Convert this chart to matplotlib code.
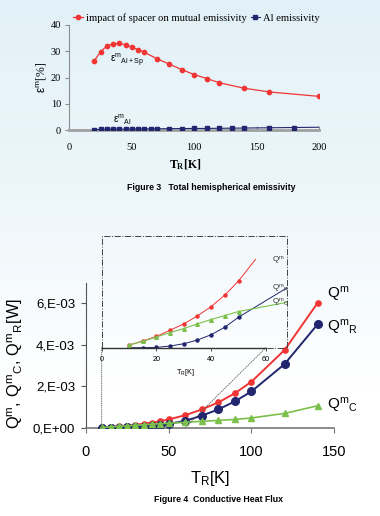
import numpy as np
import matplotlib
matplotlib.use('Agg')
import matplotlib.pyplot as plt
from matplotlib.patches import Rectangle, ConnectionPatch
from matplotlib.transforms import blended_transform_factory
from matplotlib.colors import LinearSegmentedColormap

plt.rcParams['font.family'] = ['Liberation Sans', 'DejaVu Sans']
plt.rcParams['mathtext.fontset'] = 'custom'
plt.rcParams['mathtext.rm'] = 'Liberation Sans'
plt.rcParams['mathtext.it'] = 'Liberation Sans:italic'
plt.rcParams['mathtext.bf'] = 'Liberation Serif:bold'

# Figure 3 data: emissivity [%] vs T_R [K]
T_sp = [20, 25, 30, 35, 40, 45, 50, 55, 60, 70, 80, 90, 100, 110, 120, 140, 160, 200]
eps_sp = [26.4, 29.8, 32.0, 32.8, 33.0, 32.5, 31.6, 30.6, 29.6, 27.2, 25.1, 23.0,
          21.1, 19.6, 18.0, 15.9, 14.5, 12.8]
T_al = [20, 25, 30, 35, 40, 45, 50, 55, 60, 65, 70, 80, 90, 100, 110, 120, 130, 140, 160, 180]
eps_al = [0.15, 0.2, 0.25, 0.3, 0.3, 0.35, 0.35, 0.4, 0.4, 0.45, 0.45, 0.5, 0.55, 0.6,
          0.6, 0.65, 0.7, 0.75, 0.85, 0.95]
T_al_tail = [200]
eps_al_tail = [1.05]

# Figure 4 data: heat flux [W] vs T_R [K]
T_q = [10, 15, 20, 25, 30, 35, 40, 45, 50, 60, 70, 80, 90, 100, 120, 140]
q_total = [0.016e-3, 0.040e-3, 0.068e-3, 0.105e-3, 0.143e-3, 0.191e-3, 0.247e-3, 0.316e-3,
           0.400e-3, 0.60e-3, 0.88e-3, 1.22e-3, 1.66e-3, 2.22e-3, 3.75e-3, 6.03e-3]
q_rad = [0.0, 0.0, 0.002e-3, 0.010e-3, 0.024e-3, 0.046e-3, 0.078e-3, 0.123e-3,
         0.183e-3, 0.33e-3, 0.58e-3, 0.88e-3, 1.27e-3, 1.75e-3, 3.07e-3, 5.00e-3]
q_cond = [0.016e-3, 0.038e-3, 0.064e-3, 0.091e-3, 0.115e-3, 0.143e-3, 0.169e-3, 0.193e-3,
          0.217e-3, 0.26e-3, 0.31e-3, 0.35e-3, 0.40e-3, 0.47e-3, 0.69e-3, 1.06e-3]
# inset trend-line ends (no markers)
tail_T_total = [56.2]
tail_total = [0.53e-3]
tail_T_rad = [67.6]
tail_rad = [0.358e-3]
tail_T_cond = [67.6]
tail_cond = [0.272e-3]

RED = '#F03535'
NAVY = '#22266E'
GREEN = '#7CC04C'
GRAY = '#8C8C8C'

W, H = 380, 516
fig = plt.figure(figsize=(W / 100, H / 100), dpi=100)

# page background: light blue fading to white
bg = fig.add_axes([0, 0, 1, 1], zorder=-10)
cmap = LinearSegmentedColormap.from_list('bg', [(0, '#E2F1F7'), (0.35, '#ECF6FA'), (0.75, '#FFFFFF'), (1, '#FFFFFF')])
bg.imshow(np.linspace(0, 1, 256).reshape(-1, 1), aspect='auto', cmap=cmap, extent=[0, 1, 0, 1])
bg.axis('off')

# ---------------- Figure 3 ----------------
ax1 = fig.add_axes([69.3 / W, 1 - 130 / H, 250 / W, 105 / H])
ax1.set_facecolor('none')
ax1.plot(T_sp, eps_sp, color=RED, lw=0.9, marker='o', ms=3.1, label='impact of spacer on mutual emissivity')
ax1.plot(T_al + T_al_tail, eps_al + eps_al_tail, color=NAVY, lw=0.8, zorder=3)
ax1.plot(T_al, eps_al, color=NAVY, lw=0, marker='s', ms=3.0, zorder=4)
ax1.plot([], [], color=NAVY, lw=0.8, marker='s', ms=3.0, label='Al emissivity')
ax1.set_xlim(0, 200)
ax1.set_ylim(0, 40)
ax1.set_xticks([0, 50, 100, 150, 200])
ax1.set_yticks([0, 10, 20, 30, 40])
for s in ['top', 'right']:
    ax1.spines[s].set_visible(False)
ax1.spines['left'].set_color(GRAY)
ax1.spines['left'].set_linewidth(0.8)
ax1.spines['bottom'].set_color('#A0A0A0')
ax1.spines['bottom'].set_linewidth(2)
ax1.tick_params(axis='y', direction='out', length=3, width=0.8, color=GRAY, pad=3, labelsize=7.5)
ax1.tick_params(axis='x', direction='in', length=3, width=0.8, color=GRAY, pad=9.5, labelsize=7.5)
for lab in ax1.get_xticklabels() + ax1.get_yticklabels():
    lab.set_family('Liberation Serif')
ax1.text(32.6, 27.0, r'$\mathrm{\varepsilon^{m}{}_{Al+Sp}}$', fontsize=7.2, va='center', ha='left')
ax1.text(35, 3.8, r'$\mathrm{\varepsilon^{m}{}_{Al}}$', fontsize=7.2, va='center', ha='left')
fig.legend(loc='center left', bbox_to_anchor=(73 / W, 1 - 18 / H), ncol=2, frameon=False,
           prop={'family': 'Liberation Serif', 'size': 7.6}, handlelength=0.9,
           handletextpad=0.3, columnspacing=0.4, borderpad=0, borderaxespad=0)
fig.text(42 / W, 1 - 77.5 / H, r'$\mathrm{\varepsilon^{m}}$[%]', rotation=90, ha='center', va='center',
         fontsize=8.5, family='Liberation Serif')
fig.text(185 / W, 1 - 165 / H, r'$\mathbf{T_R[K]}$', ha='center', va='center', fontsize=8.5)
fig.text(211 / W, 1 - 187 / H, 'Figure 3   Total hemispherical emissivity', ha='center', va='center',
         fontsize=6.3, fontweight='bold')

# ---------------- Figure 4 ----------------
ax2 = fig.add_axes([85.7 / W, 1 - 427.7 / H, 248.6 / W, 145 / H])
ax2.set_facecolor('none')
ax2.plot(T_q, q_total, color=RED, lw=1.4, marker='o', ms=3.8, zorder=3)
ax2.plot(T_q, q_rad, color=NAVY, lw=1.4, marker='o', ms=5.5, zorder=4)
ax2.plot(T_q, q_cond, color=GREEN, lw=1.2, marker='^', ms=4.5, zorder=5)
ax2.set_xlim(0, 150)
ax2.set_ylim(0, 0.007)
ax2.set_xticks([0, 50, 100, 150])
ax2.set_yticks([0, 0.002, 0.004, 0.006])
ax2.set_yticklabels(['0,E+00', '2,E-03', '4,E-03', '6,E-03'])
for s in ['top', 'right']:
    ax2.spines[s].set_visible(False)
ax2.spines['left'].set_color('#555555')
ax2.spines['bottom'].set_color('#777777')
ax2.spines['left'].set_linewidth(0.8)
ax2.spines['bottom'].set_linewidth(1.2)
ax2.tick_params(axis='y', direction='out', length=3.6, width=0.8, color='#555555', pad=4.1, labelsize=9.5)
ax2.tick_params(axis='x', direction='out', length=3.6, width=0.8, color='#777777', pad=9, labelsize=10.5)
ax2.text(145.6, 0.00625, r'$\mathrm{Q^{m}}$', fontsize=11, va='baseline', ha='left')
ax2.text(145.6, 0.00463, r'$\mathrm{Q^{m}{}_{R}}$', fontsize=11, va='baseline', ha='left')
ax2.text(145.6, 0.00085, r'$\mathrm{Q^{m}{}_{C}}$', fontsize=11, va='baseline', ha='left')
fig.text(15 / W, 1 - 364 / H, r'$\mathrm{Q^{m},\,Q^{m}{}_{C},\,Q^{m}{}_{R}[W]}$', rotation=90,
         ha='center', va='center', fontsize=11.8)
fig.text(210 / W, 1 - 478 / H, r'$\mathrm{T_R[K]}$', ha='center', va='center', fontsize=12)
fig.text(219 / W, 1 - 500 / H, 'Figure 4  Conductive Heat Flux', ha='center', va='center',
         fontsize=6.3, fontweight='bold')

# inset
axi = fig.add_axes([101.7 / W, 1 - 347.7 / H, 185 / W, 111.7 / H])
axi.set_facecolor('none')
n_ins = 9
axi.plot(T_q[:n_ins] + tail_T_total, q_total[:n_ins] + tail_total, color=RED, lw=0.7)
axi.plot(T_q[:n_ins], q_total[:n_ins], color=RED, lw=0, marker='o', ms=2.2)
axi.plot(T_q[:n_ins] + tail_T_rad, q_rad[:n_ins] + tail_rad, color=NAVY, lw=0.7)
axi.plot(T_q[:n_ins], q_rad[:n_ins], color=NAVY, lw=0, marker='o', ms=2.2)
axi.plot(T_q[:n_ins] + tail_T_cond, q_cond[:n_ins] + tail_cond, color=GREEN, lw=0.8)
axi.plot(T_q[:n_ins], q_cond[:n_ins], color=GREEN, lw=0, marker='^', ms=2.6)
axi.set_xlim(0, 67.6)
axi.set_ylim(0, 0.00067)
axi.set_xticks([0, 20, 40, 60])
axi.set_yticks([])
for s in ['top', 'right', 'left']:
    axi.spines[s].set_visible(False)
axi.spines['bottom'].set_bounds(0, 60)
axi.spines['bottom'].set_color('#333333')
axi.spines['bottom'].set_linewidth(1.0)
axi.tick_params(axis='x', direction='out', length=2, width=0.6, color='#333333', pad=4, labelsize=5.2)
axi.add_patch(Rectangle((0, 0), 1, 1, transform=axi.transAxes, fill=False, ec='#444444',
                        lw=0.7, ls='-.', clip_on=False))
axi.text(62.3, 0.509e-3, r'$\mathrm{Q^{m}}$', fontsize=5.8, va='baseline', ha='left', color='#333333')
axi.text(62.3, 0.344e-3, r'$\mathrm{Q^{m}{}_{R}}$', fontsize=5.8, va='baseline', ha='left', color='#333333')
axi.text(62.3, 0.256e-3, r'$\mathrm{Q^{m}{}_{C}}$', fontsize=5.8, va='baseline', ha='left', color='#333333')
fig.text(185 / W, 1 - 373 / H, r'$\mathrm{T_R[K]}$', ha='center', va='center', fontsize=5.2)

# zoom connector lines
down = blended_transform_factory(axi.transAxes, ax2.transData)
fig.add_artist(ConnectionPatch(xyA=(0, 0), coordsA=axi.transAxes, xyB=(0, 0), coordsB=down,
                               color='#555555', lw=0.6, ls=':'))
fig.add_artist(ConnectionPatch(xyA=(60, 0), coordsA=axi.transData, xyB=(60, 0), coordsB=ax2.transData,
                               color='#555555', lw=0.6, ls=':'))

fig.savefig('out.png', dpi=100)
